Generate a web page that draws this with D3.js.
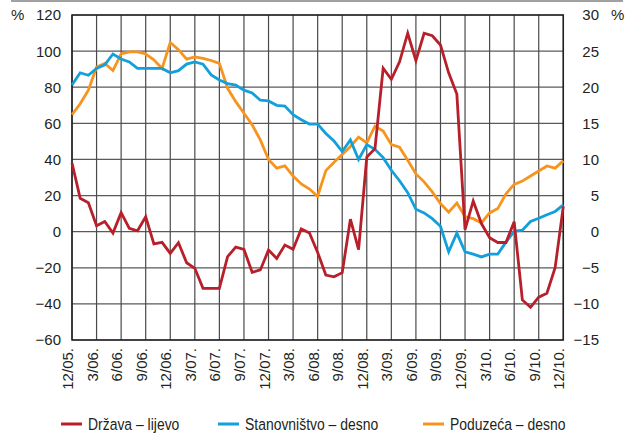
<!DOCTYPE html>
<html><head><meta charset="utf-8">
<script src="https://cdn.jsdelivr.net/npm/d3@7/dist/d3.min.js"></script>
<style>
body{margin:0;background:#fff;}
svg{display:block;}
.tick-l{font-family:"Liberation Sans",Arial,sans-serif;font-size:15px;fill:#231f20;}
.leg{font-family:"Liberation Sans",Arial,sans-serif;font-size:17px;fill:#231f20;}
</style></head>
<body><svg id="c" width="633" height="434"></svg>
<script>
const months = d3.range(61); // 12/05 ... 12/10 monthly
const tickLabels = ["12/05.","3/06.","6/06.","9/06.","12/06.","3/07.","6/07.","9/07.","12/07.","3/08.","6/08.","9/08.","12/08.","3/09.","6/09.","9/09.","12/09.","3/10.","6/10.","9/10.","12/10."];
const leftTicks = [120,100,80,60,40,20,0,-20,-40,-60];
const rightTicks = [30,25,20,15,10,5,0,-5,-10,-15];
const seriesNames = ["Država – lijevo","Stanovništvo – desno","Poduzeća – desno"];
const seriesColors = ["#b71f2b","#12a0dc","#f7941e"];
const drzava = [38,18.5,16,3.3,5.6,-0.8,10.5,1.8,0.5,8.3,-6.8,-5.9,-12,-6.1,-17.2,-20.3,-31.4,-31.4,-31.4,-13.8,-8.6,-9.8,-22.5,-21.2,-10.2,-14.8,-7.4,-9.8,1.5,-0.7,-11.5,-24,-25,-22.7,6.9,-10,41.3,46,90.5,84.4,94.1,109.9,94.7,109.9,108.5,103.4,88,76.2,1.1,17,4.5,-3.4,-6,-6,5.5,-37.8,-41.9,-36.3,-34.1,-20,14];
const stanovnistvo = [20.3,22.0,21.65,22.6,23.1,24.6,23.9,23.5,22.6,22.6,22.6,22.6,22.0,22.3,23.2,23.5,23.2,21.7,21.0,20.5,20.3,19.6,19.2,18.2,18.1,17.5,17.4,16.2,15.5,14.9,14.9,13.6,12.55,11.1,12.7,10.0,12.05,11.4,10.25,8.5,7.05,5.4,3.1,2.6,1.8,0.75,-2.8,-0.2,-2.8,-3.1,-3.5,-3.1,-3.1,-1.45,0.05,0.2,1.4,1.85,2.35,2.8,3.7];
const poduzeca = [16.2,17.7,19.6,22.8,23.3,22.3,24.6,24.9,24.9,24.6,23.8,22.6,26.2,25.2,23.9,24.2,24.0,23.7,23.3,19.85,18.0,16.4,14.8,12.7,10.0,8.8,9.1,7.7,6.6,5.9,4.9,8.45,9.6,10.7,11.8,13.1,12.3,14.6,13.95,12.05,11.7,9.9,8.0,6.9,5.5,3.9,2.7,3.95,2.1,1.8,1.2,2.6,3.2,5.25,6.55,7.0,7.7,8.4,9.1,8.8,9.8];

const svg = d3.select("#c");
const L=72, R=563.3, T=15, B=340;
const x = d3.scaleLinear().domain([0,60]).range([L,R]);
const yL = d3.scaleLinear().domain([-60,120]).range([B,T]);
const yR = d3.scaleLinear().domain([-15,30]).range([B,T]);

// top rule
svg.append("line").attr("x1",11).attr("x2",623).attr("y1",1).attr("y2",1)
  .attr("stroke","#a0a0a0").attr("stroke-width",2);

// grid
const g = svg.append("g");
g.selectAll("line.h").data(leftTicks).join("line")
  .attr("x1",L).attr("x2",R).attr("y1",d=>yL(d)).attr("y2",d=>yL(d))
  .attr("stroke","#5a5a5a").attr("stroke-width",1.2);
g.selectAll("line.v").data(tickLabels).join("line")
  .attr("x1",(d,i)=>x(i*3)).attr("x2",(d,i)=>x(i*3)).attr("y1",T).attr("y2",B)
  .attr("stroke","#4a4a4a").attr("stroke-width",1.2);
// frame
svg.append("rect").attr("x",L).attr("y",T).attr("width",R-L).attr("height",B-T)
  .attr("fill","none").attr("stroke","#231f20").attr("stroke-width",1.5);

// axes labels
svg.selectAll("text.yl").data(leftTicks).join("text").attr("class","tick-l")
  .attr("x",61).attr("y",d=>yL(d)).attr("dy","0.36em").attr("text-anchor","end").text(d=>d<0?"−"+(-d):d);
svg.selectAll("text.yr").data(rightTicks).join("text").attr("class","tick-l")
  .attr("x",599).attr("y",d=>yR(d)).attr("dy","0.36em").attr("text-anchor","end").text(d=>d<0?"−"+(-d):d);
svg.append("text").attr("class","tick-l").attr("x",11).attr("y",yL(120)).attr("dy","0.36em").text("%");
svg.append("text").attr("class","tick-l").attr("x",611).attr("y",yR(30)).attr("dy","0.36em").text("%");
svg.selectAll("text.xl").data(tickLabels).join("text").attr("class","tick-l")
  .attr("transform",(d,i)=>`translate(${x(i*3)+1},${B+8}) rotate(-90)`)
  .attr("text-anchor","end").text(d=>d);

// lines
const lineL = d3.line().x((d,i)=>x(i)).y(d=>yL(d));
const lineR = d3.line().x((d,i)=>x(i)).y(d=>yR(d));
const lg = svg.append("g").attr("fill","none").attr("stroke-width",2.8).attr("stroke-linejoin","miter");
lg.append("path").attr("d",lineR(poduzeca)).attr("stroke",seriesColors[2]);
lg.append("path").attr("d",lineR(stanovnistvo)).attr("stroke",seriesColors[1]);
lg.append("path").attr("d",lineL(drzava)).attr("stroke",seriesColors[0]);

// legend
const legX = [61,218,423];
const leg = svg.selectAll("g.leg").data(seriesNames).join("g")
  .attr("transform",(d,i)=>`translate(${legX[i]},424)`);
leg.append("line").attr("x1",0).attr("x2",21).attr("y1",0).attr("y2",0)
  .attr("stroke",(d,i)=>seriesColors[i]).attr("stroke-width",3);
leg.append("text").attr("class","leg").attr("transform","translate(27,0) scale(0.82,1)")
  .attr("dy","0.36em").text(d=>d);
</script></body></html>
